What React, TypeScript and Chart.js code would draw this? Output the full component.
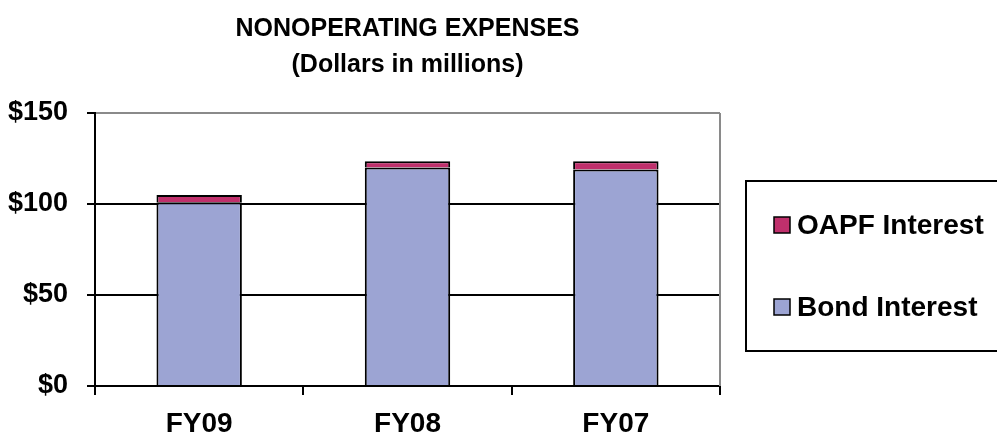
import React, { useEffect, useRef } from "react";
import { Chart, registerables } from "chart.js";

Chart.register(...registerables);

const categories = ["FY09", "FY08", "FY07"];
const bondInterest = [101, 120, 119];
const oapfInterest = [4, 3.5, 4.5];
const yTicks = [0, 50, 100, 150];
const titleLines = ["NONOPERATING EXPENSES", "(Dollars in millions)"];

const FONT = "'Liberation Sans', Arial, sans-serif";

const titlePlugin = {
  id: "customTitle",
  afterDraw(chart: any) {
    const { ctx, chartArea } = chart;
    const cx = (chartArea.left + chartArea.right) / 2;
    ctx.save();
    ctx.fillStyle = "#000";
    ctx.font = `bold 25px ${FONT}`;
    ctx.textAlign = "center";
    ctx.textBaseline = "middle";
    ctx.fillText(titleLines[0], cx, 29);
    ctx.fillText(titleLines[1], cx, 65);
    ctx.restore();
  },
};

const borderPlugin = {
  id: "plotBorder",
  afterDatasetsDraw(chart: any) {
    const { ctx, chartArea } = chart;
    ctx.save();
    ctx.strokeStyle = "#8a8a8a";
    ctx.lineWidth = 2;
    ctx.beginPath();
    ctx.moveTo(chartArea.right, chartArea.top);
    ctx.lineTo(chartArea.right, chartArea.bottom);
    ctx.stroke();
    ctx.restore();
  },
};

const legendPlugin = {
  id: "boxLegend",
  afterDraw(chart: any) {
    const { ctx, chartArea } = chart;
    const x0 = chartArea.right + 26;
    const y0 = 181;
    const h = 170;
    ctx.save();
    ctx.strokeStyle = "#000";
    ctx.lineWidth = 2;
    ctx.strokeRect(x0, y0, 300, h);
    const ds = chart.data.datasets;
    const items = [ds[1], ds[0]];
    items.forEach((d: any, i: number) => {
      const cy = y0 + 44 + i * 82;
      ctx.fillStyle = d.backgroundColor;
      ctx.fillRect(x0 + 28, cy - 8, 16, 16);
      ctx.strokeStyle = "#000";
      ctx.lineWidth = 1.5;
      ctx.strokeRect(x0 + 28, cy - 8, 16, 16);
      ctx.fillStyle = "#000";
      ctx.font = `bold 28px ${FONT}`;
      ctx.textAlign = "left";
      ctx.textBaseline = "middle";
      ctx.fillText(d.label, x0 + 51, cy + 1);
    });
    ctx.restore();
  },
};

export default function App() {
  const ref = useRef<HTMLCanvasElement>(null);
  useEffect(() => {
    if (!ref.current) return;
    const chart = new Chart(ref.current, {
      type: "bar",
      data: {
        labels: categories,
        datasets: [
          {
            label: "Bond Interest",
            data: bondInterest,
            backgroundColor: "#9CA4D3",
            borderColor: "#000",
            borderWidth: 2,
            barPercentage: 0.41,
            categoryPercentage: 1,
          },
          {
            label: "OAPF Interest",
            data: oapfInterest,
            backgroundColor: "#C0306C",
            borderColor: "#000",
            borderWidth: 2,
            barPercentage: 0.41,
            categoryPercentage: 1,
          },
        ],
      },
      options: {
        animation: false,
        responsive: true,
        maintainAspectRatio: false,
        layout: { padding: { top: 113, right: 277, left: 0, bottom: 0 } },
        plugins: {
          legend: { display: false },
          title: { display: false },
          tooltip: { enabled: false },
        },
        scales: {
          x: {
            stacked: true,
            grid: {
              offset: true,
              drawOnChartArea: false,
              drawTicks: true,
              tickLength: 9,
              tickColor: "#000",
              lineWidth: 2,
            },
            border: { color: "#000", width: 2 },
            ticks: {
              color: "#000",
              font: { family: FONT, size: 28, weight: "bold" },
              padding: 12,
            },
            afterFit: (s: any) => {
              s.height = 52;
            },
          },
          y: {
            stacked: true,
            min: 0,
            max: 150,
            afterBuildTicks: (s: any) => {
              s.ticks = yTicks.map((v) => ({ value: v }));
            },
            grid: {
              color: (c: any) => (c.tick && c.tick.value === 150 ? "#8a8a8a" : "#000"),
              lineWidth: 2,
              tickLength: 8,
              tickColor: "#000",
            },
            border: { color: "#000", width: 2 },
            ticks: {
              color: "#000",
              font: { family: FONT, size: 27, weight: "bold" },
              padding: 19,
              callback: (v: any) => "$" + v,
            },
            afterFit: (s: any) => {
              s.width = 95;
            },
          },
        },
      },
      plugins: [titlePlugin, borderPlugin, legendPlugin],
    });
    return () => chart.destroy();
  }, []);
  return (
    <div style={{ position: "absolute", left: 0, top: 0, width: 997, height: 438, background: "#fff" }}>
      <canvas ref={ref} />
    </div>
  );
}
